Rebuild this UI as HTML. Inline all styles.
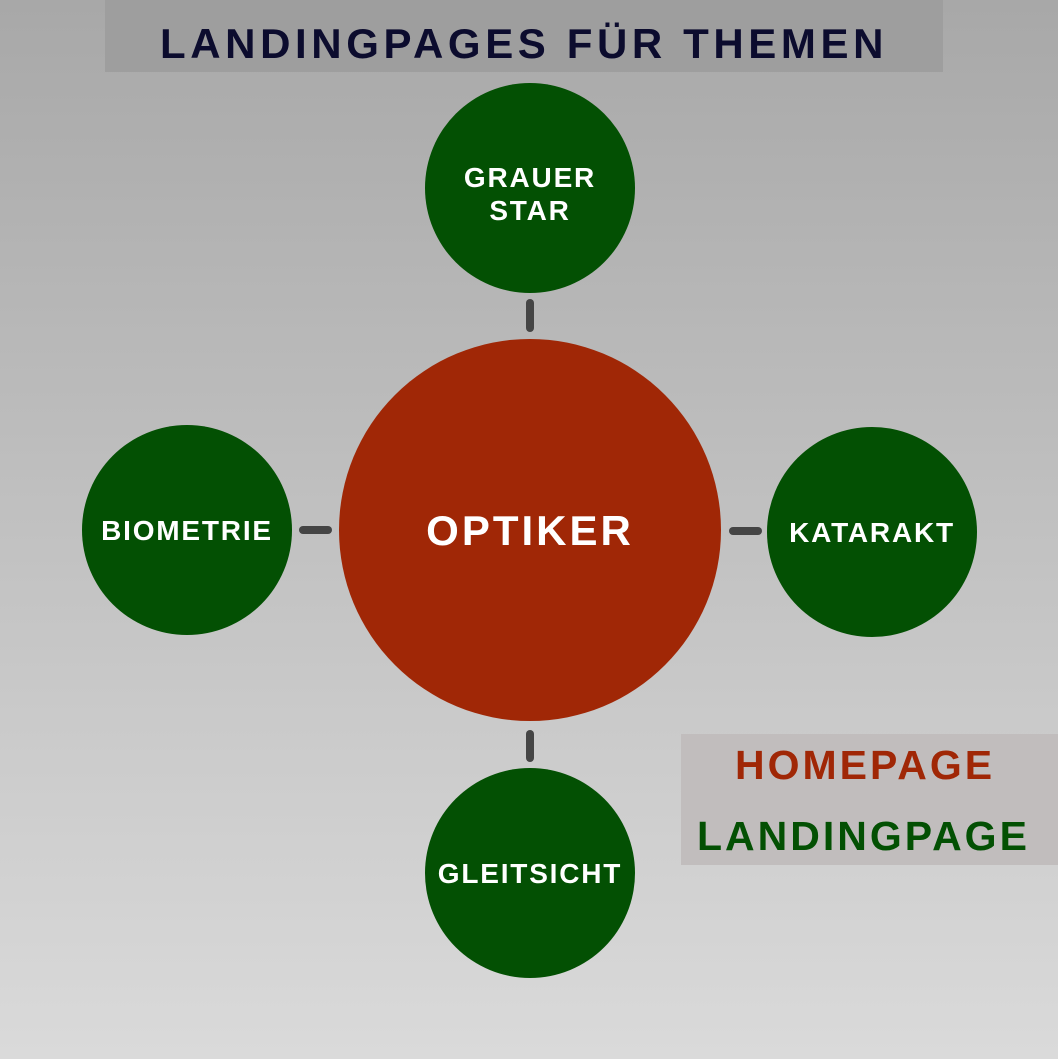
<!DOCTYPE html>
<html><head><meta charset="utf-8"><style>
html,body{margin:0;padding:0}
body{width:1058px;height:1059px;overflow:hidden;background:linear-gradient(#a8a8a8,#dadada);font-family:"Liberation Sans",sans-serif;position:relative}
.t{position:absolute;left:105px;top:0;width:838px;height:72px;background:#9e9e9e;color:#0c0c2e;font-weight:bold;font-size:42px;letter-spacing:4.6px;text-align:center;line-height:88px}
.c{position:absolute;border-radius:50%;background:#035003;color:#fff;font-weight:bold;display:flex;align-items:center;justify-content:center;text-align:center;font-size:28px;letter-spacing:1.8px;line-height:33px}
.l{position:absolute;background:#454545;border-radius:4px}
.g{position:absolute;left:681px;top:734px;width:377px;height:131px;background:#c1bdbd;font-weight:bold;font-size:41px;letter-spacing:3px}
</style></head><body>
<div class="t">LANDINGPAGES FÜR THEMEN</div>
<div class="c" style="left:425px;top:83px;width:210px;height:210px;padding-top:12px;box-sizing:border-box">GRAUER<br>STAR</div>
<div class="c" style="left:82px;top:425px;width:210px;height:210px">BIOMETRIE</div>
<div class="c" style="left:767px;top:427px;width:210px;height:210px">KATARAKT</div>
<div class="c" style="left:425px;top:768px;width:210px;height:210px">GLEITSICHT</div>
<div class="c" style="left:339px;top:339px;width:382px;height:382px;background:#a02706;font-size:42px;letter-spacing:3px">OPTIKER</div>
<div class="l" style="left:526px;top:299px;width:8px;height:33px"></div>
<div class="l" style="left:526px;top:730px;width:8px;height:32px"></div>
<div class="l" style="left:299px;top:526px;width:33px;height:8px"></div>
<div class="l" style="left:729px;top:527px;width:33px;height:8px"></div>
<div class="g"><div style="color:#a02706;position:absolute;left:54px;top:8px">HOMEPAGE</div><div style="color:#035003;position:absolute;left:16px;top:79px">LANDINGPAGE</div></div>
</body></html>
